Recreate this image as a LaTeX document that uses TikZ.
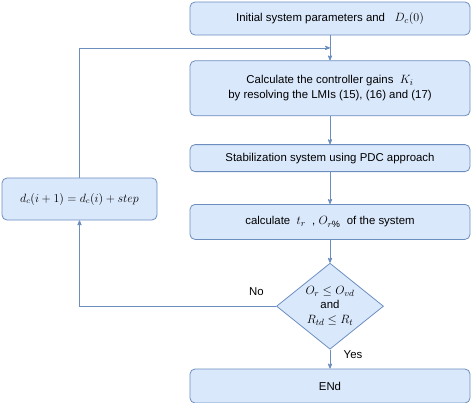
\documentclass[tikz,border=0pt]{standalone}
\usepackage{amsmath}
\usepackage{fontspec}
\setmainfont{Liberation Sans}
\usetikzlibrary{positioning,arrows,shapes.geometric,calc}
\definecolor{boxfill}{HTML}{DAE8FC}
\definecolor{boxline}{HTML}{6C8EBF}
\newcommand{\bigmath}[1]{{\fontsize{13}{15}\selectfont$#1$}}

\begin{document}
\begin{tikzpicture}[>=stealth',font=\fontsize{11.4}{15}\selectfont,
	block/.style={draw=boxline,fill=boxfill,line width=0.8pt,rounded corners=5pt,minimum width=280pt,align=center},
	decision/.style={draw=boxline,fill=boxfill,line width=0.8pt,diamond,aspect=1.25,inner sep=0pt,minimum width=107pt,minimum height=86pt,align=center},
	flow/.style={->,draw=boxline,line width=0.8pt}]
			\useasboundingbox (0,0) rectangle (474pt,-402pt);
			\node[block,minimum height=33pt] (init) at (330pt,-18.5pt) {Initial system parameters and \ \ \bigmath{D_c(0)}};
			\node[block,minimum height=55pt] (gain) [below=25pt of init] {Calculate the controller gains \ \bigmath{K_i}\\ by resolving the LMIs (15), (16) and (17)};
			\node[block,minimum height=27pt] (stab) [below=28pt of gain] {Stabilization system using PDC approach};
			\node[block,minimum height=35pt] (calc) [below=32pt of stab] {calculate \ \bigmath{t_r} \ , \bigmath{O_{r\%}} \ of the system};
			\node[decision] (test) [below=23pt of calc] {\bigmath{O_r \le O_{vd}}\\[-1pt] and\\ \bigmath{R_{td} \le R_t}};
			\node[block,minimum height=34pt] (fin) [below=19pt of test] {ENd};
			\node[block,minimum width=155pt,minimum height=42pt] (upd) at (79.5pt,-199pt) {{\fontsize{12}{14}\selectfont$d_c(i+1)=d_c(i)+step$}};
			\coordinate (join) at ($(init.south)!0.5!(gain.north)$);

			\draw[flow] (init) -- (gain);
			\draw[flow] (gain) -- (stab);
			\draw[flow] (stab) -- (calc);
			\draw[flow] (calc) -- (test);
			\draw[flow] (test) -- node[right=10pt,pos=0.25]{Yes} (fin);
			\draw[flow] (test.west) -| node[above=7pt,pos=0.05]{No} (upd.south);
			\draw[flow] (upd.north) |- (join);
\end{tikzpicture}
\end{document}
